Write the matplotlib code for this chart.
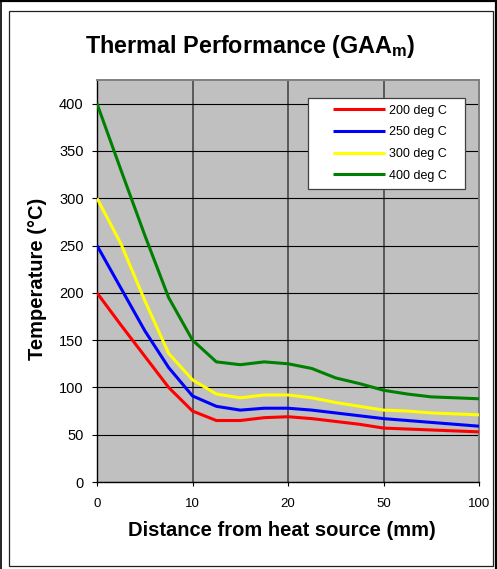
import numpy as np
import matplotlib
matplotlib.use("Agg")
import matplotlib.pyplot as plt
from matplotlib.legend_handler import HandlerLine2D
from matplotlib.lines import Line2D
from matplotlib.patches import Rectangle

# Temperaturas (deg C), um valor por categoria de distancia
t200 = [200, 166, 133, 100, 75, 65, 65, 68, 69, 67, 64, 61, 57, 56, 55, 54, 53]
t250 = [250, 205, 160, 121, 91, 80, 76, 78, 78, 76, 73, 70, 67, 65, 63, 61, 59]
t300 = [300, 252, 192, 136, 108, 93, 89, 92, 92, 89, 84, 80, 76, 75, 73, 72, 71]
t400 = [400, 330, 261, 195, 150, 127, 124, 127, 125, 120, 110, 104, 97, 93, 90, 89, 88]

series_labels = ["200 deg C", "250 deg C", "300 deg C", "400 deg C"]
series_colors = ["#FF0000", "#0000FF", "#FFFF00", "#008000"]
tick_labels = ["0", "10", "20", "50", "100"]
y_ticks = [0, 50, 100, 150, 200, 250, 300, 350, 400]

plt.rcParams["font.family"] = "Liberation Sans"
plt.rcParams["mathtext.fontset"] = "custom"
plt.rcParams["mathtext.rm"] = "Liberation Sans"
plt.rcParams["mathtext.bf"] = "Liberation Sans:bold"

W, H = 497, 569


class LinhaDeslocada(HandlerLine2D):
    # amostra da legenda comeca mais a direita, como no Excel
    def get_xdata(self, legend, xdescent, ydescent, width, height, fontsize):
        xdata, xm = super().get_xdata(legend, xdescent, ydescent, width, height, fontsize)
        return [xdata[0] + 0.257 * width, xdata[1]], xm


fig = plt.figure(figsize=(W / 100, H / 100), dpi=100)
ax = fig.add_axes([97 / W, 1 - 482 / H, 382 / W, 402 / H])
ax.set_facecolor("#C0C0C0")

# molduras
fig.add_artist(Rectangle((9 / W, 1 - 566 / H), 484 / W, 555 / H, transform=fig.transFigure,
                         fill=False, edgecolor="#202020", lw=0.9))
fig.add_artist(Line2D([0, 1], [1 - 1 / H] * 2, transform=fig.transFigure, color="black", lw=1.6))
fig.add_artist(Line2D([0.6 / W] * 2, [0, 1], transform=fig.transFigure, color="black", lw=1.2))
fig.add_artist(Line2D([1 - 1 / W] * 2, [0, 1], transform=fig.transFigure, color="black", lw=1.6))

x = np.arange(len(t200))
for valores, rotulo, cor in zip([t200, t250, t300, t400], series_labels, series_colors):
    ax.plot(x, valores, color=cor, lw=2.2, label=rotulo, solid_joinstyle="round",
            solid_capstyle="butt", zorder=3)

ax.set_xlim(0, len(t200) - 1)
ax.set_ylim(0, 425)
ax.set_xticks(range(0, len(t200), 4))
ax.set_xticklabels(tick_labels)
ax.set_yticks(y_ticks)

ax.set_axisbelow(True)
ax.yaxis.grid(True, color="black", lw=0.8)
ax.xaxis.grid(True, color="#5a5a5a", lw=1.4)

for lado in ["left", "bottom"]:
    ax.spines[lado].set_color("black")
    ax.spines[lado].set_linewidth(1.0)
for lado in ["top", "right"]:
    ax.spines[lado].set_color("#808080")
    ax.spines[lado].set_linewidth(1.4)

ax.tick_params(axis="y", direction="out", length=3.6, width=0.8, pad=6, labelsize=10.5)
ax.tick_params(axis="x", direction="out", length=3, width=0.8, pad=8.5, labelsize=9.5)

leg = ax.legend(loc="upper left", bbox_to_anchor=(0.553, 0.656, 0.41, 0.3), mode="expand",
                borderaxespad=0, borderpad=0.55, labelspacing=0.78, handlelength=5.6,
                handletextpad=0.3, fontsize=9, fancybox=False, framealpha=1,
                handler_map={Line2D: LinhaDeslocada()})
leg.get_frame().set_edgecolor("#404040")
leg.get_frame().set_linewidth(0.9)
for linha in leg.get_lines():
    linha.set_linewidth(2.2)

fig.text(250 / W, 1 - 52.6 / H, r"Thermal Performance (GAA$_\mathbf{m}$)", ha="center",
         va="baseline", fontsize=16.8, fontweight="bold")
fig.text(281.5 / W, 1 - 536.5 / H, "Distance from heat source (mm)", ha="center",
         va="baseline", fontsize=14.5, fontweight="bold")
fig.text(43.3 / W, 1 - 278.5 / H, "Temperature (\u00b0C)", ha="center", va="baseline",
         rotation=90, rotation_mode="anchor", fontsize=14.5, fontweight="bold")

fig.savefig("out.png", dpi=100)
